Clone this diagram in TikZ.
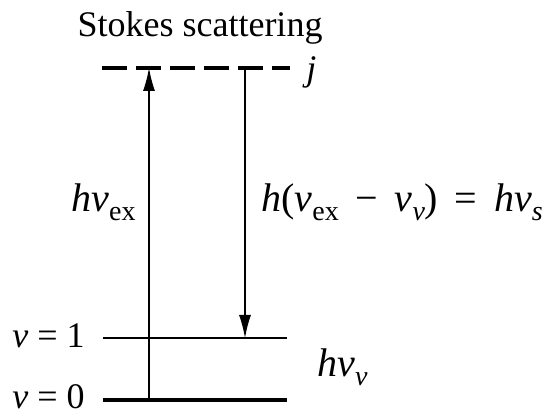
\documentclass[tikz,border=0pt]{standalone}
\usepackage{fontspec}
\setmainfont{Liberation Serif}
\usetikzlibrary{arrows.meta}
\newcommand{\lowsub}[1]{\raisebox{-0.45ex}{\fontsize{14}{16}\selectfont\upshape #1}}
\newcommand{\itsub}[1]{\raisebox{-0.45ex}{\fontsize{14}{16}\selectfont\itshape #1}}
\begin{document}
\begin{tikzpicture}[
    x=0.5pt, y=-0.5pt,
    >={Latex[length=11.5pt,width=6pt]},
    level/.style={line width=1.3pt},
    virtual/.style={line width=1.6pt, dash pattern=on 12.5pt off 4.5pt},
    trans/.style={->, line width=0.6pt},
    lbl/.style={font=\fontsize{18}{21}\selectfont, inner sep=0pt},
    eqn/.style={font=\fontsize{20}{24}\selectfont, inner sep=0pt}
]
  \useasboundingbox (0,0) rectangle (543,416);
  % levels
  \coordinate (j0) at (102,68);  \coordinate (j1) at (290,68);
  \coordinate (a0) at (103,338); \coordinate (a1) at (287,338);
  \coordinate (b0) at (103,400); \coordinate (b1) at (287,400);
  \draw[virtual] (j0) -- (j1);
  \draw[level] (a0) -- (a1);
  \draw[level, line width=1.6pt] (b0) -- (b1);

  % transitions
  \coordinate (up0) at (149,400);  \coordinate (up1) at (149,68);
  \coordinate (dn0) at (245,68);   \coordinate (dn1) at (245,338);
  \draw[trans] (up0) -- (up1);
  \draw[trans] (dn0) -- (dn1);

  % labels
  \node[lbl] (title) at (200,28) {Stokes scattering};
  \node[lbl, anchor=west] (jlab) at (306,72) {\textit{j}};
  \node[lbl, anchor=east] (v1) at (85,336) {\textit{v} = 1};
  \node[lbl, anchor=east] (v0) at (85,397) {\textit{v} = 0};
  \node[eqn, anchor=base east] (hex) at (136,212) {\textit{hν}\lowsub{ex}};
  \node[eqn, anchor=base west] (hs) at (261,212)
    {\textit{h}(\textit{ν}\lowsub{ex}\ \,−\ \,\textit{ν}\itsub{v}) \,=\, \textit{hν}\itsub{s}};
  \node[eqn, anchor=base west] (hv) at (317,377) {\textit{hν}\itsub{v}};
\end{tikzpicture}
\end{document}
